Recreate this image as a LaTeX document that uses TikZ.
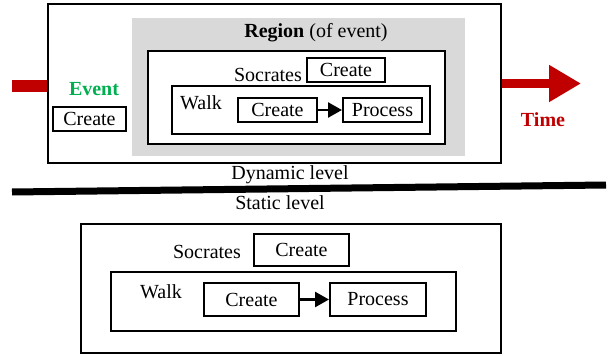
\documentclass[tikz,border=0pt]{standalone}
\usepackage{fontspec}
\setmainfont{Liberation Serif}
\usetikzlibrary{arrows.meta}
\definecolor{timered}{HTML}{C00000}
\definecolor{eventgreen}{HTML}{00B050}
\tikzset{
  frame/.style={draw, line width=1.5pt, inner sep=0pt},
  boxthick/.style={draw, line width=2pt, fill=white, inner sep=0pt},
  label/.style={inner sep=0pt},
  flow/.style={line width=2.5pt, -{Triangle[length=14pt,width=15pt]}},
}

\begin{document}
\begin{tikzpicture}[x=1pt, y=-1pt, font=\fontsize{20}{24}\selectfont]
  \useasboundingbox (0,0) rectangle (613,356);

  % dynamic level
  \node[frame, minimum width=453, minimum height=159] (dyn) at (274.5,83.5) {};
  \node[fill=black!15, minimum width=333, minimum height=138, inner sep=0pt] (region) at (298.5,87) {};
  \node[label] (regiontxt) at (316,33) {\textbf{Region} (of event)};
  \node[boxthick, minimum width=297, minimum height=93] (soc) at (296.5,97.5) {};
  \node[label] (soctxt) at (268,75) {Socrates};
  \node[boxthick, minimum width=78, minimum height=24] (soccreate) at (346,70) {Create};
  \node[boxthick, minimum width=258, minimum height=48] (walk) at (301,110) {};
  \node[label] (walktxt) at (201,103) {Walk};
  \node[boxthick, minimum width=79, minimum height=24] (create) at (277.5,110) {Create};
  \node[boxthick, minimum width=79, minimum height=24] (process) at (382.5,110) {Process};
  \draw[flow] (create) -- (process);

  \node[label, text=eventgreen] (event) at (94,89) {\textbf{Event}};
  \node[boxthick, minimum width=73, minimum height=24] (evcreate) at (89.5,119) {Create};

  % time
  \coordinate (tin) at (12,86);
  \coordinate (tout) at (581,83.5);
  \draw[timered, line width=12pt] (tin) -- (dyn.west |- tin);
  \draw[timered, line width=9pt, -{Triangle[length=32pt,width=35pt]}] (dyn.east) -- (tout);
  \node[label, text=timered] (time) at (543,120) {\textbf{Time}};

  % levels
  \node[label] (dynlevel) at (290,175) {Dynamic level};
  \coordinate (sepl) at (12,192);
  \coordinate (sepr) at (606,185);
  \draw[line width=7pt] (sepl) -- (sepr);
  \node[label] (statlevel) at (280,203) {Static level};

  % static level
  \node[frame, minimum width=420, minimum height=129] (stat) at (291,288.5) {};
  \node[label] (soctxt2) at (207,252) {Socrates};
  \node[boxthick, minimum width=95, minimum height=32] (soccreate2) at (301.5,250) {Create};
  \node[frame, minimum width=345, minimum height=59] (walk2) at (283.5,301.5) {};
  \node[label] (walktxt2) at (161,292) {Walk};
  \node[boxthick, minimum width=95, minimum height=33] (create2) at (251.5,299.5) {Create};
  \node[boxthick, minimum width=96, minimum height=33] (process2) at (378,299.5) {Process};
  \draw[flow] (create2) -- (process2);
\end{tikzpicture}
\end{document}
